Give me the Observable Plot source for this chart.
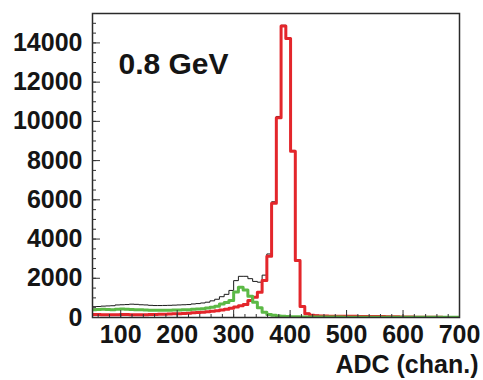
<!DOCTYPE html>
<html><head><meta charset="utf-8">
<script src="https://cdn.jsdelivr.net/npm/d3@7"></script>
<script src="https://cdn.jsdelivr.net/npm/@observablehq/plot@0.6"></script>
<style>body{margin:0;background:#fff}</style>
</head><body><div id="chart"></div>
<script>
// Histogram binning (ADC channels)
const binStart = 48;
const binWidth = 8.4;

// Total (black, thin)
const total = [550, 560, 580, 590, 600, 640, 650, 660, 680, 670, 650, 640, 620, 610, 610, 615, 620, 630, 640, 650, 660, 690, 710, 740, 780, 850, 930,
  1060, 1180, 1380, 1880, 2100, 2100, 1980, 1840, 1800, 2160, 3240, 5900, 10250, 14900, 14260, 8520, 2950,
  600, 220, 150, 120, 105, 95, 90, 90, 85, 85, 80, 75, 75, 70, 65, 65, 60, 60, 55, 50, 45, 45, 40, 35, 30, 25, 22, 20, 18, 16, 15, 14, 13, 13];

// Peak component (red)
const peak = [150, 150, 145, 140, 140, 145, 150, 150, 145, 140, 140, 145, 150, 155, 160, 165,
  175, 185, 195, 205, 220,
  240, 255, 270, 290, 315, 345, 380, 420, 470, 530, 600,
  663, 870, 1036, 1290, 1890, 3120, 5830, 10190, 14860, 14220, 8480, 2910, 560, 190,
  110, 90, 80, 75, 70, 70, 65, 65, 60, 60, 55, 55, 50, 50, 45, 45, 40, 40, 35, 30, 25, 20, 15, 12, 10, 10, 8, 8, 6, 6, 5, 5];

// Low-energy component (green)
const lowTail = [400, 410, 420, 410, 400, 420, 430, 420, 410, 400, 390, 380, 370, 370, 365, 370, 375, 380, 385, 390, 400, 415, 430, 450, 480, 520, 580,
  690, 760, 870, 1300, 1546, 1400, 1080, 780, 500,
  270, 150, 110, 80, 60, 45, 40, 35, 30, 28, 26, 25, 24, 22, 21, 20, 20, 19, 18, 18, 17, 16, 16, 15, 15, 14, 14, 13, 13, 12, 12, 12, 11, 11, 10, 10, 10, 9, 9, 9, 8, 8];

const xTicks = [100, 200, 300, 400, 500, 600, 700];
const xMinorTicks = d3.range(60, 701, 20);
const yTicks = [0, 2000, 4000, 6000, 8000, 10000, 12000, 14000];
const yMinorTicks = d3.range(0, 15501, 500);
const energyLabel = "0.8 GeV";
const xTitle = "ADC (chan.)";

function steps(values) {
  const pts = values.map((v, i) => ({x: binStart + i * binWidth, y: v}));
  pts.push({x: binStart + values.length * binWidth, y: values[values.length - 1]});
  return pts;
}

const font = "'Liberation Sans', Arial, Helvetica, sans-serif";

const chart = Plot.plot({
  width: 483,
  height: 380,
  marginLeft: 92,
  marginRight: 24,
  marginTop: 13,
  marginBottom: 63,
  x: {domain: [50, 700]},
  y: {domain: [0, 15500]},
  style: {fontFamily: font, background: "white", color: "#151515"},
  marks: [
    Plot.line(steps(total), {x: "x", y: "y", curve: "step-after", stroke: "#1a1a1a", strokeWidth: 1, clip: true}),
    Plot.line(steps(peak), {x: "x", y: "y", curve: "step-after", stroke: "#e3262b", strokeWidth: 3, clip: true}),
    Plot.line(steps(lowTail), {x: "x", y: "y", curve: "step-after", stroke: "#5cb946", strokeWidth: 3, clip: true}),
    Plot.frame({stroke: "#2a2a2a", strokeWidth: 1.5}),
    Plot.axisY({ticks: yMinorTicks, tickSize: -4, text: null, label: null, stroke: "#333"}),
    Plot.axisY({ticks: yTicks, tickSize: -8, text: null, label: null, stroke: "#333"}),
    Plot.axisY({ticks: yTicks, tickSize: 0, tickPadding: 10, label: null, fontSize: 25, fontWeight: "bold", tickFormat: d => String(d)}),
    Plot.axisX({ticks: xMinorTicks, tickSize: -3, text: null, label: null, stroke: "#333"}),
    Plot.axisX({ticks: xTicks, tickSize: -7, text: null, label: null, stroke: "#333"}),
    Plot.axisX({ticks: xTicks, tickSize: 0, tickPadding: 8, label: null, fontSize: 25, fontWeight: "bold", tickFormat: d => String(d)}),
    Plot.text([energyLabel], {text: d => d, frameAnchor: "top-left", dx: 26, dy: 51, fontSize: 30, fontWeight: "bold", textAnchor: "start", lineAnchor: "middle"}),
    Plot.text([xTitle], {text: d => d, frameAnchor: "bottom-right", dx: 19, dy: 47, fontSize: 25, fontWeight: "bold", textAnchor: "end", lineAnchor: "middle"})
  ]
});
document.getElementById("chart").appendChild(chart);
</script>
</body></html>
